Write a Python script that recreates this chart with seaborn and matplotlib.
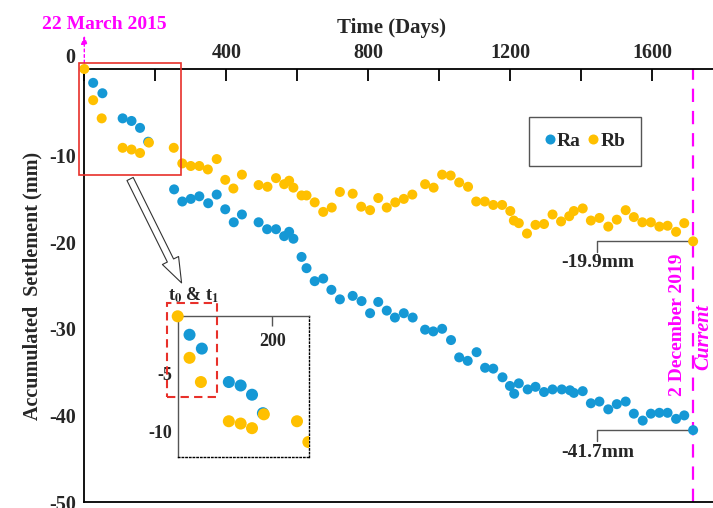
import numpy as np
import pandas as pd
import seaborn as sns
import matplotlib.pyplot as plt
from matplotlib.patches import Rectangle

# settlement readings (days since 22 March 2015, mm)
ra_days = [25, 51, 108, 133, 157, 180, 253, 276, 300, 324, 349, 373, 397, 421, 444,
           491, 515, 540, 563, 577, 589, 612, 626, 649, 673, 696, 720, 756, 781, 805,
           828, 852, 875, 900, 925, 960, 983, 1008, 1033, 1056, 1080, 1105, 1129, 1152,
           1178, 1199, 1211, 1224, 1249, 1271, 1295, 1319, 1345, 1368, 1379, 1404, 1427,
           1451, 1476, 1500, 1525, 1548, 1573, 1596, 1620, 1643, 1667, 1690, 1715]
ra_vals = [-1.6, -2.8, -5.7, -6.0, -6.8, -8.4, -13.9, -15.3, -15.0, -14.7, -15.5, -14.5,
           -16.2, -17.7, -16.8, -17.7, -18.5, -18.5, -19.3, -18.8, -19.6, -21.7, -23.0,
           -24.5, -24.2, -25.5, -26.6, -26.2, -26.8, -28.2, -26.9, -27.9, -28.7, -28.2,
           -28.7, -30.1, -30.3, -30.0, -31.3, -33.3, -33.7, -32.7, -34.5, -34.6, -35.6,
           -36.6, -37.5, -36.3, -37.0, -36.7, -37.3, -37.0, -37.0, -37.1, -37.4, -37.2,
           -38.6, -38.4, -39.3, -38.7, -38.4, -39.8, -40.6, -39.8, -39.7, -39.7, -40.4,
           -40.0, -41.7]

rb_days = [0, 25, 49, 108, 133, 157, 182, 252, 276, 300, 324, 348, 373, 397, 420, 444,
           491, 516, 540, 563, 577, 589, 612, 626, 649, 673, 697, 720, 756, 780, 805, 828,
           852, 876, 900, 924, 960, 984, 1008, 1032, 1056, 1081, 1104, 1128, 1152, 1177,
           1200, 1210, 1224, 1247, 1271, 1295, 1319, 1343, 1366, 1379, 1404, 1427, 1451,
           1476, 1500, 1525, 1548, 1572, 1596, 1620, 1643, 1667, 1690, 1715]
rb_vals = [0.0, -3.6, -5.7, -9.1, -9.3, -9.7, -8.5, -9.1, -10.9, -11.2, -11.2, -11.6,
           -10.4, -12.8, -13.8, -12.2, -13.4, -13.6, -12.6, -13.3, -12.9, -13.7, -14.6,
           -14.6, -15.4, -16.5, -16.0, -14.2, -14.4, -15.9, -16.3, -14.9, -16.0, -15.4,
           -15.0, -14.5, -13.3, -13.7, -12.2, -12.3, -13.1, -13.6, -15.3, -15.3, -15.7,
           -15.7, -16.4, -17.5, -17.8, -19.0, -18.0, -17.9, -16.8, -17.6, -17.0, -16.4,
           -16.1, -17.5, -17.2, -18.2, -17.4, -16.3, -17.1, -17.7, -17.7, -18.2, -18.1,
           -18.8, -17.8, -19.9]

BLUE = "#1598d5"
ORANGE = "#ffc000"
MAGENTA = "#ff00ff"
RED = "#e8302a"

df = pd.concat([
    pd.DataFrame({"Day": ra_days, "Settlement": ra_vals, "Point": "Ra"}),
    pd.DataFrame({"Day": rb_days, "Settlement": rb_vals, "Point": "Rb"}),
], ignore_index=True)

sns.set_style("white")
plt.rcParams["font.family"] = ["Liberation Serif", "DejaVu Serif"]
plt.rcParams["font.weight"] = "bold"
plt.rcParams["mathtext.fontset"] = "stix"

fig = plt.figure(figsize=(7.13, 5.08), dpi=100)
ax = fig.add_axes([84.3 / 713, 1 - 502 / 508, 1 - 84.3 / 713, 433 / 508])

sns.scatterplot(data=df, x="Day", y="Settlement", hue="Point",
                palette={"Ra": BLUE, "Rb": ORANGE}, s=52, linewidth=0,
                ax=ax, clip_on=False, zorder=3)

ax.set_xlim(0, 1771)
ax.set_ylim(-50, 0)
ax.set_xlabel("")
ax.set_ylabel("")

# axes: ticks inside, x labels on top
ax.xaxis.tick_top()
xt = list(range(0, 1800, 200))
ax.set_xticks(xt)
ax.set_xticklabels(["" if (v % 400 or v == 0) else str(v) for v in xt])
yt = list(range(-50, 1, 5))
ax.set_yticks(yt)
ax.set_yticklabels([str(v) if (v % 10 == 0 and v != 0) else "" for v in yt])
ax.tick_params(axis="both", direction="in", length=8.6, width=1.3,
               color="black", labelsize=14.5)
ax.tick_params(axis="x", pad=4)
ax.tick_params(axis="y", pad=6)
for side in ["top", "left", "bottom"]:
    ax.spines[side].set_color("black")
    ax.spines[side].set_linewidth(1.3)
ax.spines["right"].set_visible(False)
ax.text(-40, 1.3, "0", ha="center", va="center", fontsize=14.5)

ax.text(0.488, 1.094, "Time (Days)", transform=ax.transAxes,
        ha="center", va="center", fontsize=15)
ax.text(-0.082, 0.5, "Accumulated  Settlement (mm)", transform=ax.transAxes,
        ha="center", va="center", rotation=90, fontsize=14.5)

# start / current markers
ax.axvline(1715, color=MAGENTA, lw=1.6, ls=(0, (6, 4)), zorder=2)
ax.annotate("", xy=(0, 3.9), xytext=(0, 0.7),
            arrowprops=dict(arrowstyle="-|>,head_length=0.5,head_width=0.18",
                            color=MAGENTA, lw=1, ls=(0, (2, 2)),
                            shrinkA=0, shrinkB=0),
            annotation_clip=False)
ax.text(55, 5.1, "22 March 2015", color=MAGENTA, ha="center", va="center",
        fontsize=14)
ax.text(1670, -29.5, "2 December 2019", color=MAGENTA, rotation=90,
        ha="center", va="center", fontsize=14)
ax.text(1745, -30.9, "Current", color=MAGENTA, rotation=90, style="italic",
        ha="center", va="center", fontsize=14.5)

# final values
ax.plot([1715, 1445, 1445], [-19.9, -19.9, -21.1], color="#555555", lw=1, zorder=2)
ax.text(1445, -22.3, "-19.9mm", ha="center", va="center", fontsize=14)
ax.plot([1715, 1445, 1445], [-41.7, -41.7, -43.0], color="#555555", lw=1, zorder=2)
ax.text(1445, -44.3, "-41.7mm", ha="center", va="center", fontsize=14)

# zoom box and hollow arrow
ax.add_patch(Rectangle((-15, -12.2), 287, 12.9, fill=False, edgecolor=RED,
                       lw=1.2, clip_on=False, zorder=4))
ax.annotate("", xy=(274, -24.7), xytext=(129, -12.7),
            arrowprops=dict(facecolor="white", edgecolor="#333333", lw=0.8,
                            width=5, headwidth=13, headlength=18, shrink=0))

sns.move_legend(ax, "upper left", bbox_to_anchor=(0.707, 0.889), ncol=2,
                title=None, frameon=True, fancybox=False, edgecolor="#555555",
                framealpha=1, fontsize=14, handletextpad=0.05,
                columnspacing=0.35, borderpad=0.8, handlelength=0.6,
                borderaxespad=0)
ax.get_legend().get_frame().set_linewidth(1)

# inset of the first days
axin = fig.add_axes([177.7 / 713, 1 - 457 / 508, 131.6 / 713, 140.7 / 508])
df_in = df[df["Day"] <= 280]
sns.scatterplot(data=df_in, x="Day", y="Settlement", hue="Point",
                palette={"Ra": BLUE, "Rb": ORANGE}, s=75, linewidth=0,
                legend=False, ax=axin, zorder=3)
axin.collections[0].set_clip_path(
    Rectangle((-0.15, 0), 1.15, 1.15, transform=axin.transAxes))
axin.set_xlim(0, 278)
axin.set_ylim(-12.2, 0)
axin.set_xlabel("")
axin.set_ylabel("")
axin.xaxis.tick_top()
axin.set_xticks([200])
axin.set_xticklabels([])
axin.set_yticks([-5, -10])
axin.set_yticklabels(["-5", "-10"])
axin.tick_params(axis="both", direction="in", length=7, width=1,
                 color="#555555", labelsize=13, pad=4)
for side in ["top", "left"]:
    axin.spines[side].set_color("#555555")
    axin.spines[side].set_linewidth(1)
for side in ["right", "bottom"]:
    axin.spines[side].set_color("black")
    axin.spines[side].set_linewidth(1)
    axin.spines[side].set_linestyle(":")
axin.text(200, -2.2, "200", ha="center", va="center", fontsize=13)
axin.add_patch(Rectangle((-22, -6.97), 104.5, 8.1, fill=False, edgecolor=RED,
                         lw=1.5, ls=(0, (4, 2.5)), clip_on=False, zorder=4))
axin.text(34.5, 1.85, r"t$_\mathbf{0}$ & t$_\mathbf{1}$", ha="center",
          va="center", fontsize=13)

fig.savefig("out.png", dpi=100)
